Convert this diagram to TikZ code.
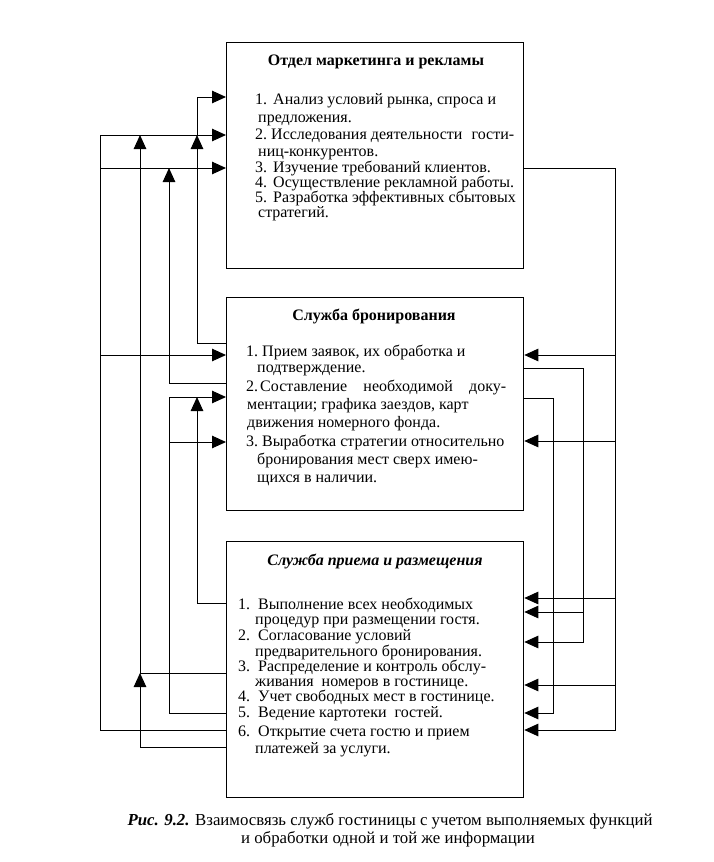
\documentclass[tikz,border=0pt]{standalone}
\usepackage{fontspec}
\setmainfont{Liberation Serif}
\usetikzlibrary{arrows.meta}
\newcommand{\nm}[2]{\makebox[#1][l]{#2}}
\begin{document}
\begin{tikzpicture}[x=1pt,y=-1pt,
  box/.style={draw,line width=1.3pt,minimum width=297pt,minimum height=#1,anchor=north west,inner sep=0pt},
  ln/.style={line width=1pt},
  arr/.style={ln,-{Triangle[length=14pt,width=12.5pt]}},
  txt/.style={anchor=base west,inner sep=0pt,font=\fontsize{16}{17}\selectfont},
  ttl/.style={anchor=base,inner sep=0pt,font=\fontsize{16}{17}\selectfont\bfseries},
  captxt/.style={anchor=base,inner sep=0pt,font=\fontsize{16.8}{18}\selectfont},
]
\useasboundingbox (0,0) rectangle (713,862);

% boxes
\node[box=226pt] (m) at (226,42) {};
\node[box=213pt] (b) at (226,297) {};
\node[box=256pt] (r) at (226,541) {};

% box 1 text
\node[ttl] (m-t) at (376,65) {Отдел маркетинга и рекламы};
\node[txt] (m-1) at (255,104) {\nm{18pt}{1.}Анализ условий рынка, спроса и};
\node[txt] (m-1b) at (258,122) {предложения.};
\node[txt] (m-2) at (255,139) {\nm{16pt}{2.}\makebox[243pt][l]{Исследования деятельности\hfill гости-}};
\node[txt] (m-2b) at (258,156) {ниц-конкурентов.};
\node[txt] (m-3) at (255,172) {\nm{18pt}{3.}Изучение требований клиентов.};
\node[txt] (m-4) at (255,187) {\nm{18pt}{4.}Осуществление рекламной работы.};
\node[txt] (m-5) at (255,202) {\nm{18pt}{5.}Разработка эффективных сбытовых};
\node[txt] (m-5b) at (258,217) {стратегий.};

% box 2 text
\node[ttl] (b-t) at (374,320) {Служба бронирования};
\node[txt] (b-1) at (246,356) {\nm{16pt}{1.}Прием заявок, их обработка и};
\node[txt] (b-1b) at (257,372) {подтверждение.};
\node[txt] (b-2) at (246,391) {\nm{14pt}{2.}\makebox[246pt][s]{Составление необходимой доку-}};
\node[txt] (b-2b) at (247,409) {ментации; графика заездов, карт};
\node[txt] (b-2c) at (247,427) {движения номерного фонда.};
\node[txt] (b-3) at (246,446) {\nm{16pt}{3.}Выработка стратегии относительно};
\node[txt] (b-3b) at (257,464) {бронирования мест сверх имею-};
\node[txt] (b-3c) at (257,482) {щихся в наличии.};

% box 3 text
\node[ttl,font=\fontsize{16}{17}\selectfont\bfseries\itshape] (r-t) at (375,565) {Служба приема и размещения};
\node[txt] (r-1) at (238,609) {\nm{20pt}{1.}Выполнение всех необходимых};
\node[txt] (r-1b) at (255,624) {процедур при размещении гостя.};
\node[txt] (r-2) at (238,640) {\nm{20pt}{2.}Согласование условий};
\node[txt] (r-2b) at (255,656) {предварительного бронирования.};
\node[txt] (r-3) at (238,671) {\nm{20pt}{3.}Распределение и контроль обслу-};
\node[txt] (r-3b) at (255,686) {живания~ номеров в гостинице.};
\node[txt] (r-4) at (238,701) {\nm{20pt}{4.}Учет свободных мест в гостинице.};
\node[txt] (r-5) at (238,717) {\nm{20pt}{5.}Ведение картотеки~ гостей.};
\node[txt] (r-6) at (238,736) {\nm{20pt}{6.}Открытие счета гостю и прием};
\node[txt] (r-6b) at (255,753) {платежей за услуги.};

% caption
\node[captxt] (c1) at (390,825) {\textbf{\textit{Рис. 9.2.}} Взаимосвязь служб гостиницы с учетом выполняемых функций};
\node[captxt] (c2) at (388,843) {и обработки одной и той же информации};

% left connectors
\draw[arr] (b.west|-0,343) -| (197,135);
\draw[arr] (197,135) |- (m.west|-0,97);
\draw[arr] (r.west|-0,730) -| (100,135) -- (m.west|-0,135);
\draw[arr] (100,168) -- (m.west|-0,168);
\draw[arr] (100,355) -- (b.west|-0,355);
\draw[arr] (r.west|-0,747) -| (140,673);
\draw[ln] (r.west|-0,673) -- (140,673);
\draw[arr] (140,673) -- (140,135);
\draw[arr] (b.west|-0,383) -| (169,168);
\draw[arr] (r.west|-0,713) -| (169,397) -- (b.west|-0,397);
\draw[arr] (169,442) -- (b.west|-0,442);
\draw[arr] (r.west|-0,603) -| (197,397);

% right connectors
\draw[arr] (m.east|-0,168) -| (615,730) -- (r.east|-0,730);
\draw[arr] (615,355) -- (b.east|-0,355);
\draw[arr] (615,441) -- (b.east|-0,441);
\draw[arr] (615,598) -- (r.east|-0,598);
\draw[arr] (615,685) -- (r.east|-0,685);
\draw[arr] (b.east|-0,368) -| (583,642) -- (r.east|-0,642);
\draw[arr] (583,612) -- (r.east|-0,612);
\draw[arr] (b.east|-0,398) -| (553,713) -- (r.east|-0,713);
\end{tikzpicture}
\end{document}
